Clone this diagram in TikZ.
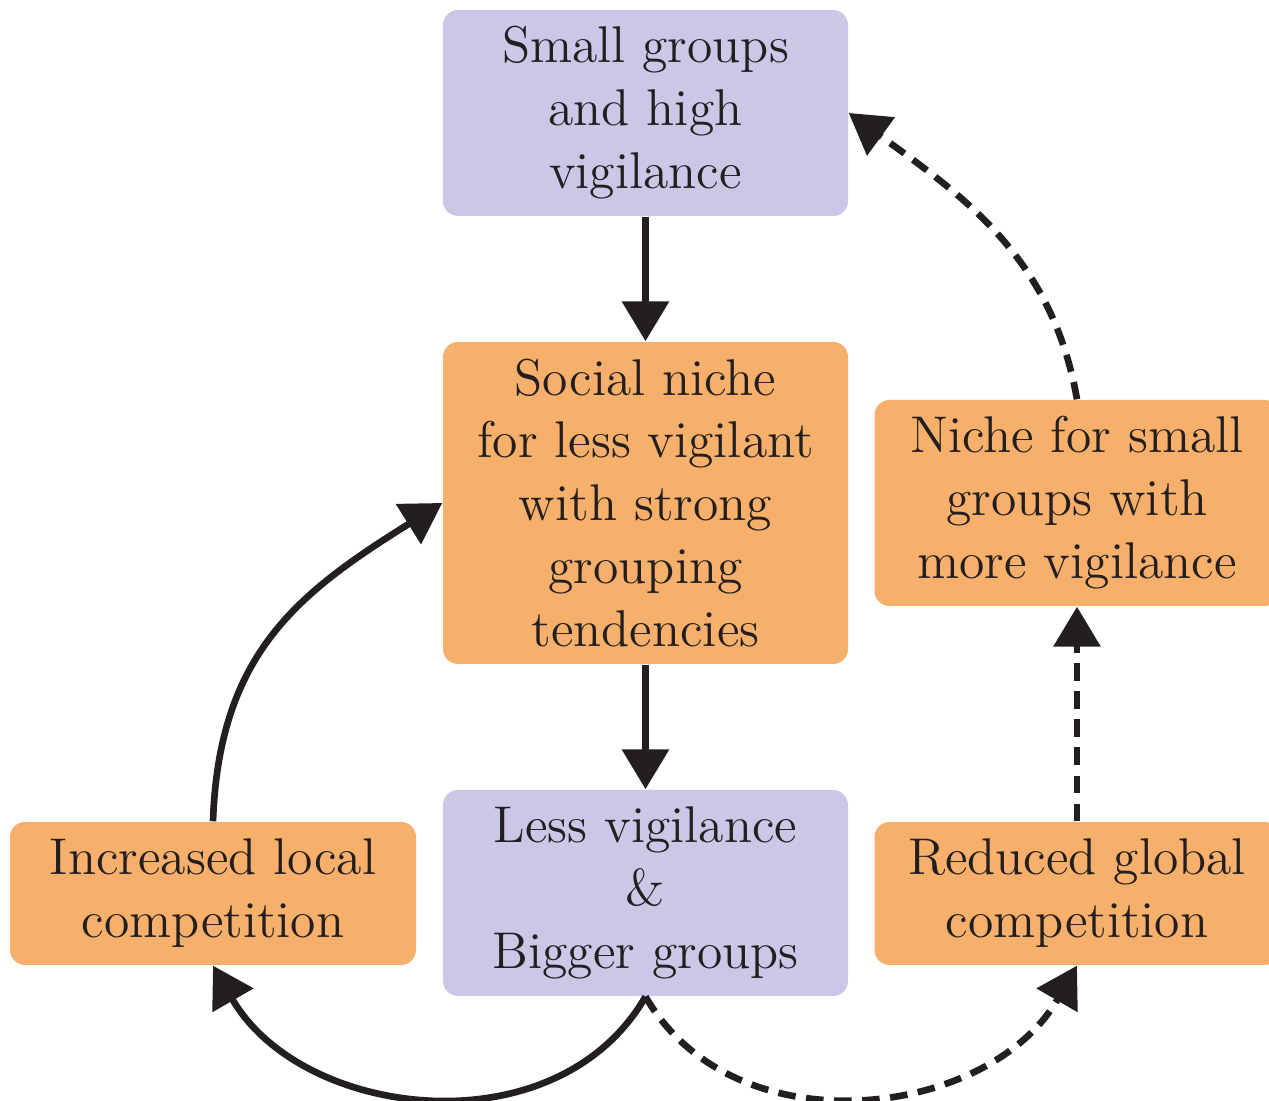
\documentclass[tikz,border=0pt]{standalone}
\usepackage{xcolor}
\usetikzlibrary{arrows.meta}

\definecolor{lavender}{RGB}{203,199,230}
\definecolor{apricot}{RGB}{247,176,107}
\definecolor{inkblack}{RGB}{35,31,32}

\begin{document}
\begin{tikzpicture}[
        purplebox/.style={rounded corners=0.15cm, fill=lavender, minimum width=4.05cm, align=center, text=inkblack, font=\fontsize{14.7}{17.9}\selectfont},
        orangebox/.style={rounded corners=0.15cm, fill=apricot, minimum width=4.05cm, align=center, text=inkblack, font=\fontsize{14.7}{17.9}\selectfont},
        solidarrow/.style={draw=inkblack, line width=1.9pt, -{Triangle[length=0.4cm, width=0.46cm]}},
        dasharrow/.style={solidarrow, dash pattern=on 5pt off 3pt}
    ]
        \useasboundingbox (0,0) rectangle (12.69,11.01);

        % Centre column
        \node[purplebox, minimum height=2.06cm] (smallgroups) at (6.455,9.88) {Small groups\\and high\\vigilance};
        \node[orangebox, minimum height=3.22cm] (socialniche) at (6.455,5.98) {Social niche\\for less vigilant\\with strong\\grouping\\tendencies};
        \node[purplebox, minimum height=2.06cm] (lessvig) at (6.455,2.08) {Less vigilance\\\&\\Bigger groups};

        % Left box
        \node[orangebox, minimum width=4.06cm, minimum height=1.43cm] (localcomp) at (2.13,2.075) {Increased local\\competition};

        % Right boxes
        \node[orangebox, minimum height=1.43cm] (globalcomp) at (10.77,2.075) {Reduced global\\competition};
        \node[orangebox, minimum height=2.06cm] (smallniche) at (10.77,5.98) {Niche for small\\groups with\\more vigilance};

        % Solid arrows
        \draw[solidarrow] (smallgroups) -- (socialniche);
        \draw[solidarrow] (socialniche) -- (lessvig);
        \draw[solidarrow] (lessvig.south) to[out=240, in=300, looseness=1.05] (localcomp.south);
        \draw[solidarrow] (localcomp.north) to[out=88, in=212, looseness=1.1] (socialniche.west);

        % Dashed arrows
        \draw[dasharrow] (lessvig.south) to[out=-60, in=240, looseness=1.05] (globalcomp.south);
        \draw[dasharrow] (globalcomp) -- (smallniche);
        \draw[dasharrow] (smallniche.north) to[out=100, in=-36] (smallgroups.east);

    \end{tikzpicture}
\end{document}
